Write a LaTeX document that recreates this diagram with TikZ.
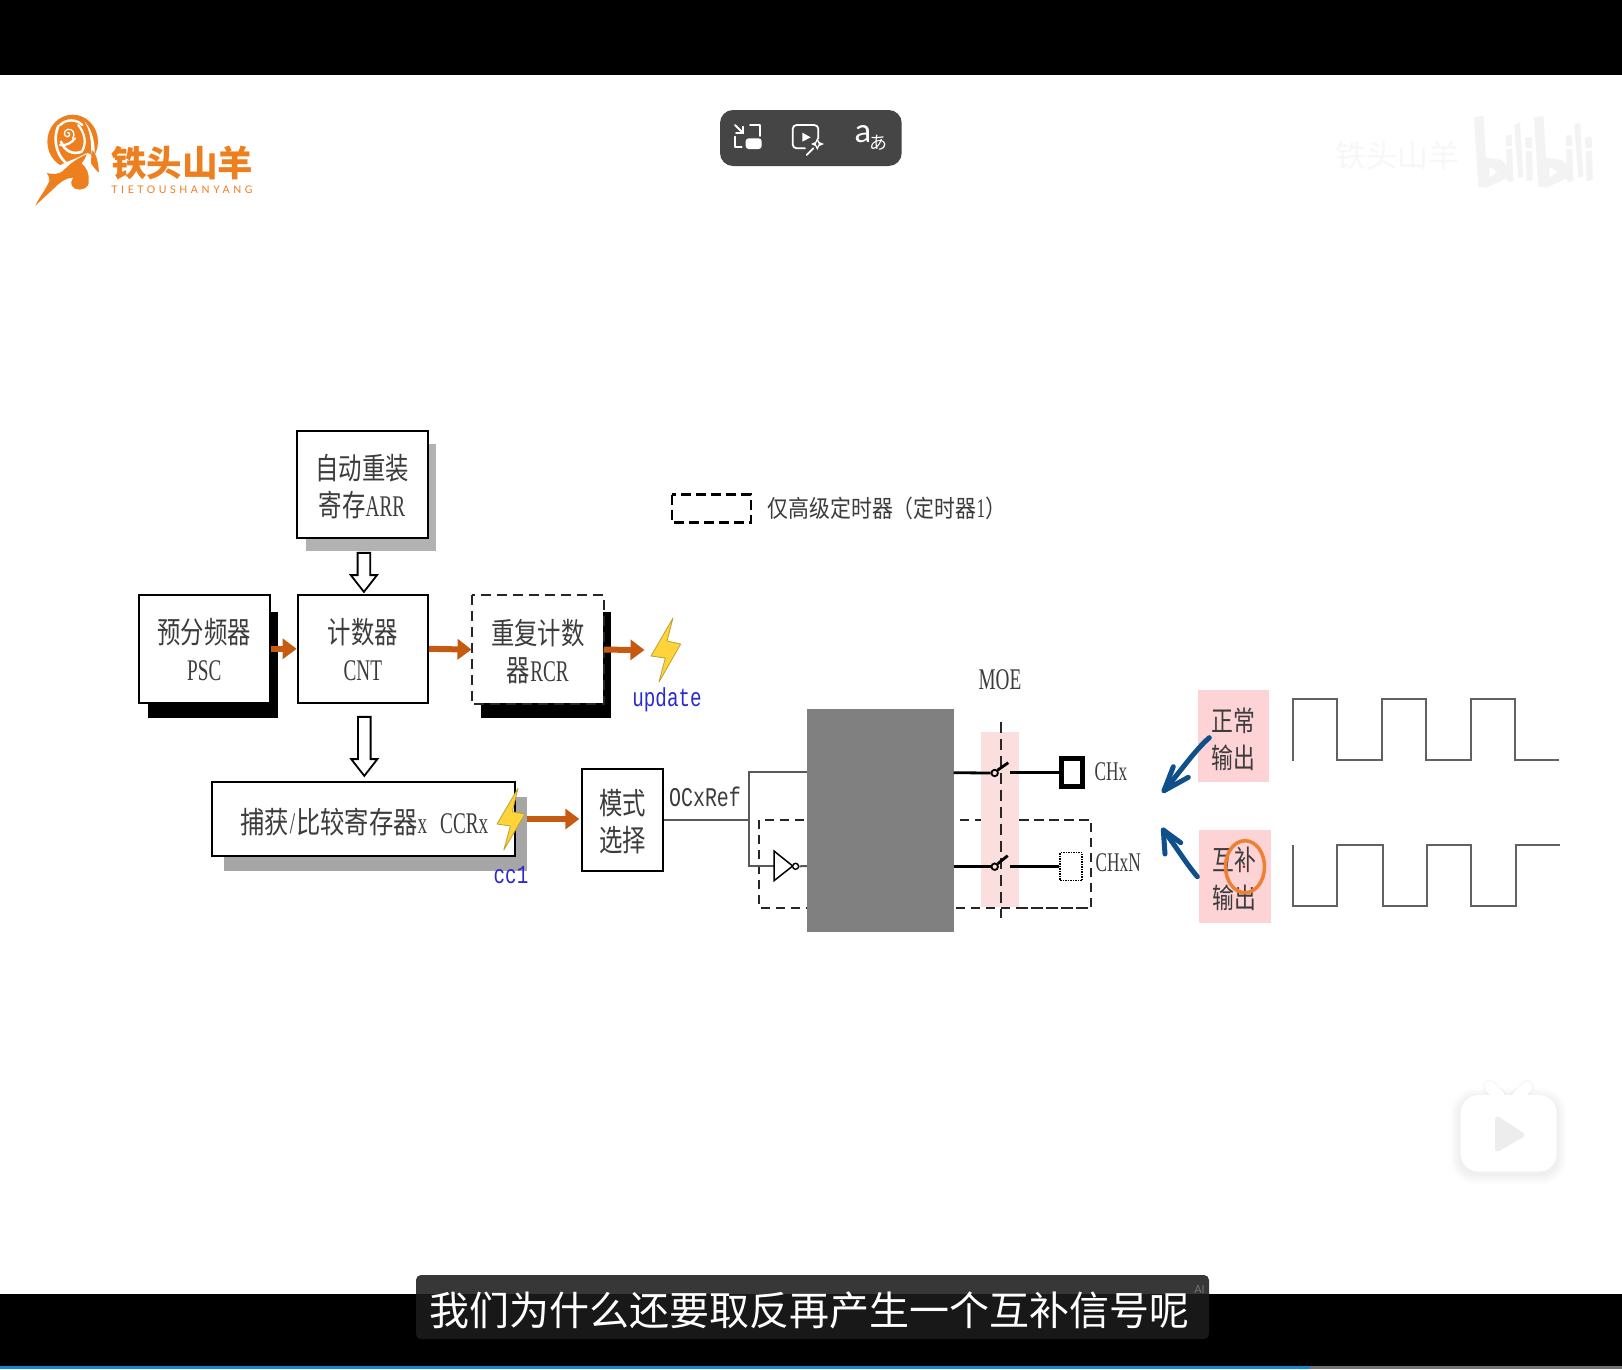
\documentclass[tikz,border=0pt]{standalone}
\usepackage{fontspec}
\usetikzlibrary{arrows.meta,shapes.arrows,shapes.geometric,calc}
\setmainfont{Liberation Serif}
\newfontfamily\zhf[FakeStretch=0.78]{Noto Sans CJK SC}
\newfontfamily\zhw[FakeStretch=0.81]{Noto Sans CJK SC}
\newfontfamily\zhn{Noto Sans CJK SC}
\newfontfamily\jpn{Noto Sans CJK JP}
\newfontfamily\laf[FakeStretch=0.64]{Liberation Serif}
\newfontfamily\lam[FakeStretch=0.74]{Liberation Mono}
\newfontfamily\lab{Lato}
\definecolor{arrowor}{HTML}{C55A11}
\definecolor{pinka}{HTML}{FBDEDE}
\definecolor{pinkb}{HTML}{FDD3D6}
\definecolor{logoor}{HTML}{EE7F1F}
\definecolor{penblue}{HTML}{0F4F8A}
\definecolor{circor}{HTML}{EE8033}
\definecolor{txtgray}{HTML}{3C3C3C}
\definecolor{boltfill}{HTML}{FFD43B}
\definecolor{boltline}{HTML}{BFA030}
\definecolor{wmark}{HTML}{F3F3F3}
\definecolor{pill}{HTML}{454545}
\definecolor{updblue}{HTML}{2A2AD0}
\newcommand{\ZH}[1]{{\zhf\raisebox{-2pt}[.88em][.12em]{#1}}}
\newcommand{\ZW}[1]{{\zhw\raisebox{-2pt}[.88em][.12em]{#1}}}
\newcommand{\LA}[1]{{\laf\raisebox{-2pt}[.88em][.12em]{#1}}}
\tikzset{
  box/.style={draw=black,line width=2pt,fill=white,inner sep=0pt,align=center,text=txtgray,
              font=\fontsize{30}{37}\selectfont},
  oarrow/.style={draw=arrowor,line width=6pt,-{Triangle[length=14pt,width=20pt]}},
  hollow/.style={single arrow,draw=black,line width=1.8pt,fill=white,rotate=-90,inner xsep=0pt,inner ysep=5.4pt,
     single arrow tip angle=76,single arrow head extend=6.8pt,single arrow head indent=0pt},
  wire/.style={draw=black!65,line width=2pt},
  thick wire/.style={draw=black,line width=2.8pt},
  dbox/.style={draw=black!85,line width=2pt,dash pattern=on 9pt off 6pt},
  bolt/.style={fill=boltfill,draw=boltline,line width=.8pt,line join=round},
  wave/.style={draw=black!62,line width=2pt},
  pen/.style={draw=penblue,line width=5pt,line cap=round,line join=round},
  wm/.style={fill=wmark,draw=none},
  ic/.style={draw=white,line width=1.8pt,line cap=round,line join=round},
  lbl/.style={inner sep=0pt,text=txtgray},
}
\begin{document}
\begin{tikzpicture}[x=1pt,y=-1pt]
\useasboundingbox (0,0) rectangle (1622,1369);
\fill[white] (0,0) rectangle (1622,1369);
% video bars
\fill[black] (0,0) rectangle (1622,74.5);
\fill[black] (0,1293.5) rectangle (1622,1369);
\fill[black!55] (0,1366) rectangle (1622,1369);
\fill[cyan!70!blue] (0,1366) rectangle (1310,1369);

% logo
\begin{scope}[shift={(25,110)},x=.3333pt,y=-.3333pt]
  \fill[logoor] (143,95) ellipse [x radius=76,y radius=81];
  \fill[white] (178,34) .. controls (205,60) and (212,110) .. (208,145) -- (198,128)
     .. controls (200,95) and (195,60) .. (178,34) -- cycle;
  \draw[white,line width=2.6pt,line cap=round] (100,48) .. controls (85,80) and (90,130) .. (122,158);
  \draw[white,line width=2.4pt,line cap=round] (104,46) .. controls (125,25) and (155,28) .. (172,45);
  \draw[white,line width=2.6pt,line cap=round] (108,95) .. controls (120,125) and (145,135) .. (170,125);
  \draw[white,line width=2.2pt,line cap=round] (160,45) .. controls (180,70) and (185,100) .. (172,122);
  \draw[white,line width=2.2pt,line cap=round] (105,105) .. controls (120,108) and (140,100) .. (150,85);
  \draw[white,line width=1.3pt,line cap=round] (128,68) .. controls (136,66) and (136,80) .. (127,80)
     .. controls (116,80) and (114,62) .. (128,58) .. controls (145,54) and (152,75) .. (143,85);
  \fill[white] (95,172) -- (120,158) -- (190,130) -- (235,150) -- (235,190) -- (150,190) -- cycle;
  \fill[logoor] (200,120) .. controls (215,130) and (220,160) .. (222,188) .. controls (212,180) and (205,170) .. (198,160) -- cycle;
  \fill[logoor,draw=white,line width=.8pt,line join=round] (26,294) .. controls (38,265) and (60,240) .. (72,212)
     .. controls (72,202) and (68,196) .. (62,187) .. controls (85,192) and (100,192) .. (112,182)
     .. controls (130,165) and (150,145) .. (188,130) .. controls (182,145) and (180,152) .. (172,160)
     .. controls (185,170) and (195,190) .. (192,215) .. controls (195,235) and (170,245) .. (150,238)
     .. controls (135,230) and (135,215) .. (142,205) .. controls (125,205) and (112,215) .. (100,225) -- cycle;
\end{scope}
\node[inner sep=0pt,text=logoor,font=\zhn\bfseries\fontsize{35.5}{35}\selectfont] (logotxt) at (182,163) {铁头山羊};
\node[inner sep=0pt,text=logoor,font=\lab\fontsize{10.5}{11}\selectfont] (logoen) at (182,189.5) {\addfontfeature{LetterSpace=34}TIETOUSHANYANG};

% top pill
\fill[pill,rounded corners=13pt] (720,110) rectangle (901.7,166);
\begin{scope}[shift={(700,90)},x=.3333pt,y=-.3333pt]
  \draw[ic] (150,105) -- (180,105) -- (180,138);
  \draw[ic] (105,140) -- (105,170) -- (125,170);
  \fill[white,rounded corners=3pt] (137,145) rectangle (185,177);
  \draw[ic] (105,105) -- (130,130);
  \draw[ic] (130,110) -- (130,130) -- (108,130);
  \draw[ic,rounded corners=4pt] (315,175) -- (278,175) -- (278,105) -- (355,105) -- (355,145);
  \fill[white] (307,128) -- (332,142) -- (307,155) -- cycle;
  \fill[white] (352,143) -- (358,156) -- (372,162) -- (358,168) -- (352,180) -- (346,168) -- (333,162) -- (346,156) -- cycle;
  \fill[pill] (352,154) -- (356,162) -- (352,170) -- (348,162) -- cycle;
  \draw[ic] (320,195) -- (340,175);
\end{scope}
\node[inner sep=0pt,text=white,font=\lab\fontsize{33}{33}\selectfont] (ua) at (863,134) {a};
\node[inner sep=0pt,text=white,font=\jpn\fontsize{18}{18}\selectfont] (uj) at (878,142.5) {あ};

% watermark
\node[inner sep=0pt,text=black!3,font=\zhn\fontsize{31}{31}\selectfont] (wmt) at (1397,156) {铁头山羊};
\foreach \dx in {0,60}{
\begin{scope}[shift={(1470+\dx,105)},x=.3333pt,y=-.3333pt]
  \fill[wm] (12,38) -- (40,32) -- (48,158) -- (95,165) -- (118,190) -- (120,215) -- (50,248) -- (25,245) -- cycle;
  \fill[white] (58,185) -- (82,200) -- (58,218) -- cycle;
  \fill[wm] (107,92) -- (125,90) -- (130,228) -- (112,232) -- cycle;
  \fill[wm] (133,60) -- (150,52) -- (160,215) -- (145,218) -- cycle;
  \fill[wm] (165,98) -- (185,95) -- (188,225) -- (170,228) -- cycle;
  \fill[white] (105,122) rectangle (128,132);
  \fill[white] (163,128) rectangle (187,138);
\end{scope}}

% shadows
\fill[black!30] (306,444) rectangle (436,551);
\fill[black] (148,612) rectangle (278,718);
\fill[black] (481,612) rectangle (611.4,718);
\fill[black!35] (224,797) rectangle (526.8,871);

% boxes
\node[box,minimum width=131pt,minimum height=106.5pt] (arr) at (362,484.5) {\ZH{自动重装}\\\ZH{寄存}\LA{ARR}};
\node[box,minimum width=130.6pt,minimum height=107.7pt] (psc) at (204.3,648.8) {\ZH{预分频器}\\\LA{PSC}};
\node[box,minimum width=130.4pt,minimum height=107.7pt] (cnt) at (362.8,648.8) {\ZH{计数器}\\\LA{CNT}};
\node[box,draw=none,minimum width=130.5pt,minimum height=107.3pt] (rcr) at (537.8,649.6) {\ZH{重复计数}\\\ZH{器}\LA{RCR}};
\draw[dbox,line width=2pt,dash pattern=on 10pt off 6pt] (rcr.north west) rectangle (rcr.south east);
\node[box,minimum width=302.8pt,minimum height=74pt,font=\fontsize{30}{30}\selectfont] (ccr) at (363.2,819) {};
\node[lbl,anchor=west,font=\fontsize{30}{30}\selectfont] (ccrt) at (240,820) {\ZW{捕获}\hspace{1pt}\LA{/}\hspace{1pt}\ZW{比较寄存器}\LA{x}\hspace{13pt}\LA{CCRx}};
\node[box,minimum width=81pt,minimum height=101.7pt] (mode) at (622.8,819.8) {\ZH{模式}\\\ZH{选择}};

% hollow arrows
\node[hollow,minimum height=39pt] (ha) at ($(arr.south)!.5!(cnt.north)+(1.5,2)$) {};
\node[hollow,minimum height=59pt] (hb) at ($(cnt.south)!.5!(ccr.north -| cnt.south)+(1.5,0)$) {};

% orange arrows
\coordinate (bolta) at (644.5,650);
\coordinate (modein) at (579.3,819);
\coordinate (ccrout) at (526.8,819);
\draw[oarrow] (psc.east) -- (cnt.west);
\draw[oarrow] (cnt.east) -- (rcr.west);
\draw[oarrow] (rcr.east) -- (bolta);
\draw[oarrow] (ccrout) -- (modein);

% bolts
\draw[bolt] (673,618) -- (651,656) -- (665.3,658) -- (659,682) -- (680.7,644) -- (667,641) -- cycle;
\draw[bolt] (518,788.3) -- (497,824) -- (510.4,826) -- (503.8,850) -- (524.9,814) -- (512.3,811.7) -- cycle;

\node[inner sep=0pt,text=updblue,font=\lam\fontsize{26}{26}\selectfont] (upd) at (667,700) {update};
\node[inner sep=0pt,text=updblue,font=\lam\fontsize{26}{26}\selectfont] (cc) at (511,875) {cc1};

% legend
\draw[draw=black,line width=2.4pt,dash pattern=on 10pt off 5pt] (672,494.5) rectangle (751,522.5);
\node[lbl,anchor=west,font=\fontsize{24}{24}\selectfont] (leg) at (767.5,508) {{\fontspec[FakeStretch=0.87]{Noto Sans CJK SC}仅高级定时器（定时器}{\laf\fontsize{27}{27}\selectfont 1}{\fontspec[FakeStretch=0.87]{Noto Sans CJK SC}）}};

% dashed advanced box & pink band
\draw[dbox] (759.3,819.7) rectangle (1091,907.7);
\fill[pinka] (981,731.7) rectangle (1019,907.3);
\draw[dbox] (1019,819.7) -- (1091,819.7);
\draw[dbox] (1019,907.7) -- (1091,907.7);

% wires left of block
\coordinate (j) at (748.7,819.7);
\coordinate (jt) at (748.7,771.7);
\coordinate (jb) at (748.7,866);
\coordinate (blockt) at (807,771.7);
\coordinate (invin) at (774,866);
\coordinate (blockb) at (807,866);
\draw[wire] (mode.east |- j) -- (j);
\draw[wire] (blockt) -- (jt) -- (jb) -- (invin);
% inverter
\draw[draw=black,line width=1.5pt,fill=white] (774,851) -- (792.7,866) -- (774,880.7) -- cycle;
\node[circle,draw=black,line width=1.4pt,fill=white,minimum size=6pt,inner sep=0pt] (bub) at (795.6,866.3) {};
\draw[wire] (bub.east) -- (blockb);

% gray block
\fill[black!50] (807,709.3) rectangle (953.7,932.3);

% MOE
\node[lbl,font=\laf\fontsize{30}{30}\selectfont] (moe) at (1000,680) {MOE};
\coordinate (moet) at (1000.7,721.7);
\coordinate (moeb) at (1000.7,918);
\draw[draw=black!85,line width=1.7pt,dash pattern=on 11pt off 6pt] (moet) -- (moeb);

% switches and terminals
\node[draw=black,line width=4.6pt,fill=white,minimum width=21pt,minimum height=28pt,inner sep=0pt] (chx) at (1072,772.7) {};
\node[draw=black,line width=1.5pt,densely dotted,fill=white,minimum width=22pt,minimum height=28pt,inner sep=0pt] (chn) at (1071,866.7) {};
\node[circle,draw=black,line width=1.8pt,minimum size=6.5pt,inner sep=0pt] (s1) at (994.7,773) {};
\node[circle,draw=black,line width=1.8pt,minimum size=6.5pt,inner sep=0pt] (s2) at (994.7,866.7) {};
\coordinate (s1r) at (1010,772.7);
\coordinate (s2r) at (1010,866.7);
\coordinate (b1) at (1008.3,762.7);
\coordinate (b2) at (1007.7,855.7);
\draw[thick wire] (953.7,772.7) -- (s1.west);
\draw[thick wire] (953.7,866.7) -- (s2.west);
\draw[thick wire] (s1.north east) -- (b1);
\draw[thick wire] (s2.north east) -- (b2);
\draw[thick wire] (s1r) -- (chx.west);
\draw[thick wire] (s2r) -- (chn.west);
\node[lbl,anchor=west,font=\laf\fontsize{27}{27}\selectfont] (tx) at (1094.5,771.7) {CHx};
\node[lbl,anchor=west,font=\laf\fontsize{27}{27}\selectfont] (tn) at (1095.5,862.7) {CHxN};

% OCxRef
\node[lbl,font=\lam\fontsize{27}{27}\selectfont] (ocx) at (705,797) {OCxRef};

% pink labels
\fill[pinkb] (1197.7,690) rectangle (1269.3,782.3);
\fill[pinkb] (1198.7,830) rectangle (1271,923.3);
\node[lbl,align=center,font=\fontsize{28}{37}\selectfont] (nl) at (1233,737) {\ZH{正常}\\\ZH{输出}};
\node[lbl,align=center,font=\fontsize{28}{38}\selectfont] (cl) at (1234.5,877) {\ZH{互补}\\\ZH{输出}};
\draw[circor,line width=3.5pt] (1245,866.7) ellipse [x radius=19.5,y radius=26];
\fill[red!75!black] (1244,866.7) circle [radius=1.4];

% waves
\draw[wave] (1293,760.7) -- (1293,699) -- (1337.3,699) -- (1337.3,760) -- (1382,760) -- (1382,699) -- (1426,699) -- (1426,760) -- (1471,760) -- (1471,699) -- (1515,699) -- (1515,760) -- (1559.3,760);
\draw[wave] (1293,845) -- (1293,905.7) -- (1337.3,905.7) -- (1337.3,845) -- (1382.7,845) -- (1382.7,905.7) -- (1426.7,905.7) -- (1426.7,845) -- (1471,845) -- (1471,905.7) -- (1515.7,905.7) -- (1515.7,845) -- (1560,845);

% pen arrows
\draw[pen] (1209.3,737.7) .. controls (1195,750) and (1180,772) .. (1164,790.7);
\draw[pen] (1173.3,766.7) -- (1164,790.7) -- (1188.3,777.3);
\draw[pen] (1197.3,876.7) .. controls (1185,862) and (1175,845) .. (1163.3,830);
\draw[pen] (1165,854) -- (1163.3,830) -- (1180.7,842.7);

% tv button
\foreach \e in {10,8,...,2}{
  \fill[black,opacity=.012,rounded corners={16+\e*1pt}] (1460.7-\e,1098-\e) rectangle (1556.7+\e,1174+\e);
}
\foreach \w in {15,13}{
  \draw[black,opacity=.015,line width=\w pt,line cap=round] (1500,1097) -- (1490,1087);
  \draw[black,opacity=.015,line width=\w pt,line cap=round] (1517,1097) -- (1527,1087);
}
\draw[white,line width=11pt,line cap=round] (1500,1097) -- (1490,1087);
\draw[white,line width=11pt,line cap=round] (1517,1097) -- (1527,1087);
\fill[white,rounded corners=18pt] (1460.7,1095) rectangle (1556.7,1171.7);
\draw[fill=black!7,draw=black!7,line width=5pt,line join=round] (1497.5,1119) -- (1522,1135) -- (1497.5,1149) -- cycle;

% caption
\fill[black!89,opacity=.88,rounded corners=5pt] (416,1275) rectangle (1209,1339);
\node[inner sep=0pt,text=white,font=\zhn\fontsize{40}{40}\selectfont] (cap) at (809,1310) {我们为什么还要取反再产生一个互补信号呢};
\node[inner sep=0pt,text=black!55,font=\lab\fontsize{11}{11}\selectfont] (ai) at (1199.5,1290) {AI};
\end{tikzpicture}
\end{document}
